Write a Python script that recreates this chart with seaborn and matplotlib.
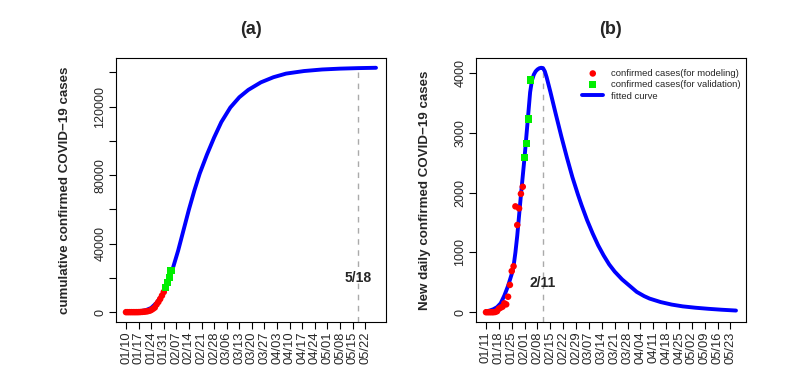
import pandas as pd
import matplotlib
matplotlib.use("Agg")
import matplotlib.pyplot as plt
import matplotlib.dates as mdates
import seaborn as sns

# ---- data ----
# (a) cumulative confirmed cases
cum_model_dates = ["01/10", "01/11", "01/12", "01/13", "01/14", "01/15", "01/16", "01/17",
                   "01/18", "01/19", "01/20", "01/21", "01/22", "01/23", "01/24", "01/25",
                   "01/26", "01/27", "01/28", "01/29", "01/30", "01/31"]
cum_model_cases = [41, 41, 41, 41, 41, 41, 45, 62, 121, 198, 291, 440, 571, 830, 1287, 1975,
                   2744, 4515, 5974, 7711, 9692, 11791]
cum_valid_dates = ["02/01", "02/02", "02/03", "02/04"]
cum_valid_cases = [14380, 17205, 20438, 24324]
cum_fit_dates = ["01/10", "01/17", "01/21", "01/24", "01/27", "01/30", "02/02", "02/05",
                 "02/08", "02/11", "02/14", "02/17", "02/20", "02/24", "02/28", "03/03",
                 "03/08", "03/13", "03/18", "03/25", "04/01", "04/08", "04/18", "04/28",
                 "05/08", "05/18", "05/28"]
cum_fit_cases = [50, 400, 1200, 2500, 5500, 10000, 16500, 25500, 36000, 48000, 60000, 71000,
                 81000, 92000, 102000, 111000, 119500, 125500, 129800, 134200, 137200, 139300,
                 140800, 141700, 142200, 142500, 142700]
cum_mark_date, cum_mark_value = "05/18", 142500

# (b) new daily confirmed cases
new_model_dates = ["01/11", "01/12", "01/13", "01/14", "01/15", "01/16", "01/17", "01/18",
                   "01/19", "01/20", "01/21", "01/22", "01/23", "01/24", "01/25", "01/26",
                   "01/27", "01/28", "01/29", "01/30", "01/31"]
new_model_cases = [0, 0, 0, 0, 0, 4, 17, 59, 77, 93, 149, 131, 259, 457, 688, 769, 1771, 1459,
                   1737, 1981, 2099]
new_valid_dates = ["02/01", "02/02", "02/03", "02/04"]
new_valid_cases = [2589, 2825, 3233, 3886]
new_fit_dates = ["01/11", "01/13", "01/15", "01/17", "01/19", "01/21", "01/23", "01/25",
                 "01/26", "01/27", "01/28", "01/29", "01/30", "01/31", "02/01", "02/02",
                 "02/03", "02/04", "02/05", "02/06", "02/07", "02/08", "02/09", "02/10",
                 "02/11", "02/12", "02/13", "02/14", "02/15", "02/18", "02/21", "02/24",
                 "02/27", "03/01", "03/03", "03/06", "03/09", "03/12", "03/15", "03/18",
                 "03/21", "03/25", "03/29", "04/02", "04/06", "04/09", "04/15", "04/21",
                 "04/27", "05/04", "05/11", "05/18", "05/26"]
new_fit_cases = [15, 28, 50, 85, 150, 280, 440, 640, 770, 1000, 1280, 1620, 1960, 2280, 2600,
                 2960, 3320, 3680, 3880, 3975, 4030, 4062, 4082, 4090, 4085, 4030, 3930, 3810,
                 3690, 3310, 2940, 2590, 2260, 1970, 1790, 1540, 1320, 1120, 950, 800, 680,
                 550, 445, 340, 270, 228, 170, 128, 98, 75, 57, 42, 28]
new_mark_date, new_mark_value = "02/11", 4090


def to_dt(days):
    return pd.to_datetime(["2020/" + d for d in days], format="%Y/%m/%d")


sns.set_theme(style="ticks")
plt.rcParams["font.family"] = ["Liberation Sans", "DejaVu Sans"]

fig = plt.figure(figsize=(7.88, 3.78), dpi=100)
ax1 = fig.add_axes([116 / 788, 56 / 378, 270 / 788, 264 / 378])
ax2 = fig.add_axes([476 / 788, 56 / 378, 270 / 788, 264 / 378])


def draw_panel(ax, fit_d, fit_v, mod_d, mod_v, val_d, val_v, mark_d, mark_v, ylabel, text_y):
    fit_x = to_dt(fit_d)
    sns.lineplot(x=fit_x, y=fit_v, color="blue", linewidth=2.8, ax=ax,
                 label="fitted curve", zorder=2)
    sns.scatterplot(x=to_dt(mod_d), y=mod_v, color="red", marker="o", s=22,
                    edgecolor="none", ax=ax, label="confirmed cases(for modeling)", zorder=3)
    sns.scatterplot(x=to_dt(val_d), y=val_v, color="#00ee00", marker="s", s=26,
                    edgecolor="none", ax=ax, label="confirmed cases(for validation)", zorder=3)
    # R-style 4% padding
    x0, x1 = fit_x.min(), fit_x.max()
    pad = (x1 - x0) * 0.04
    ax.set_xlim(x0 - pad, x1 + pad)
    ymax = max(fit_v)
    ax.set_ylim(-0.04 * ymax, 1.04 * ymax)
    md = to_dt([mark_d])[0]
    ax.vlines(md, -0.04 * ymax, mark_v, colors="#aaaaaa", linestyles=(0, (4, 4)),
              linewidth=1, zorder=1)
    ax.text(md, text_y * ymax, mark_d.lstrip("0"),
            ha="center", va="center", fontsize=10, fontweight="bold")
    ticks = pd.date_range(fit_x.min(), periods=20, freq="7D")
    ax.set_xticks(ticks)
    ax.xaxis.set_major_formatter(mdates.DateFormatter("%m/%d"))
    ax.tick_params(axis="x", labelrotation=90, labelsize=9.3, length=5, width=0.8,
                   color="black", pad=2)
    ax.tick_params(axis="y", labelrotation=90, labelsize=9, length=5, width=0.8,
                   color="black", pad=2)
    ax.set_xlabel("")
    ax.set_ylabel(ylabel, fontsize=9.6, fontweight="bold")
    ax.yaxis.set_label_coords(-0.19, 0.5)
    ax.yaxis.label.set_va("center")
    for sp in ax.spines.values():
        sp.set_color("black")
        sp.set_linewidth(0.8)
    ax.set_facecolor("white")


draw_panel(ax1, cum_fit_dates, cum_fit_cases, cum_model_dates, cum_model_cases,
           cum_valid_dates, cum_valid_cases, cum_mark_date, cum_mark_value,
           "cumulative confirmed COVID\u221219 cases", 0.14)
ax1.set_yticks(range(0, 140001, 20000))
ax1.set_yticklabels(["0", "", "40000", "", "80000", "", "120000", ""])
for lbl in ax1.get_yticklabels():
    lbl.set_va("center")
ax1.get_legend().remove()

draw_panel(ax2, new_fit_dates, new_fit_cases, new_model_dates, new_model_cases,
           new_valid_dates, new_valid_cases, new_mark_date, new_mark_value,
           "New daily confirmed COVID\u221219 cases", 0.12)
ax2.set_yticks(range(0, 4001, 1000))
for lbl in ax2.get_yticklabels():
    lbl.set_va("center")
h, l = ax2.get_legend_handles_labels()
order = [1, 2, 0]
ax2.legend([h[i] for i in order], [l[i] for i in order], loc="upper right",
           bbox_to_anchor=(1.0, 0.98), frameon=False, fontsize=6.8, handlelength=2.2,
           handletextpad=0.8, labelspacing=0.25, borderaxespad=0.2)

fig.text(251 / 788, 1 - 30 / 378, "(a)", ha="center", va="center", fontsize=13,
         fontweight="bold")
fig.text(611 / 788, 1 - 30 / 378, "(b)", ha="center", va="center", fontsize=13,
         fontweight="bold")

fig.savefig("out.png", dpi=100, facecolor="white")
